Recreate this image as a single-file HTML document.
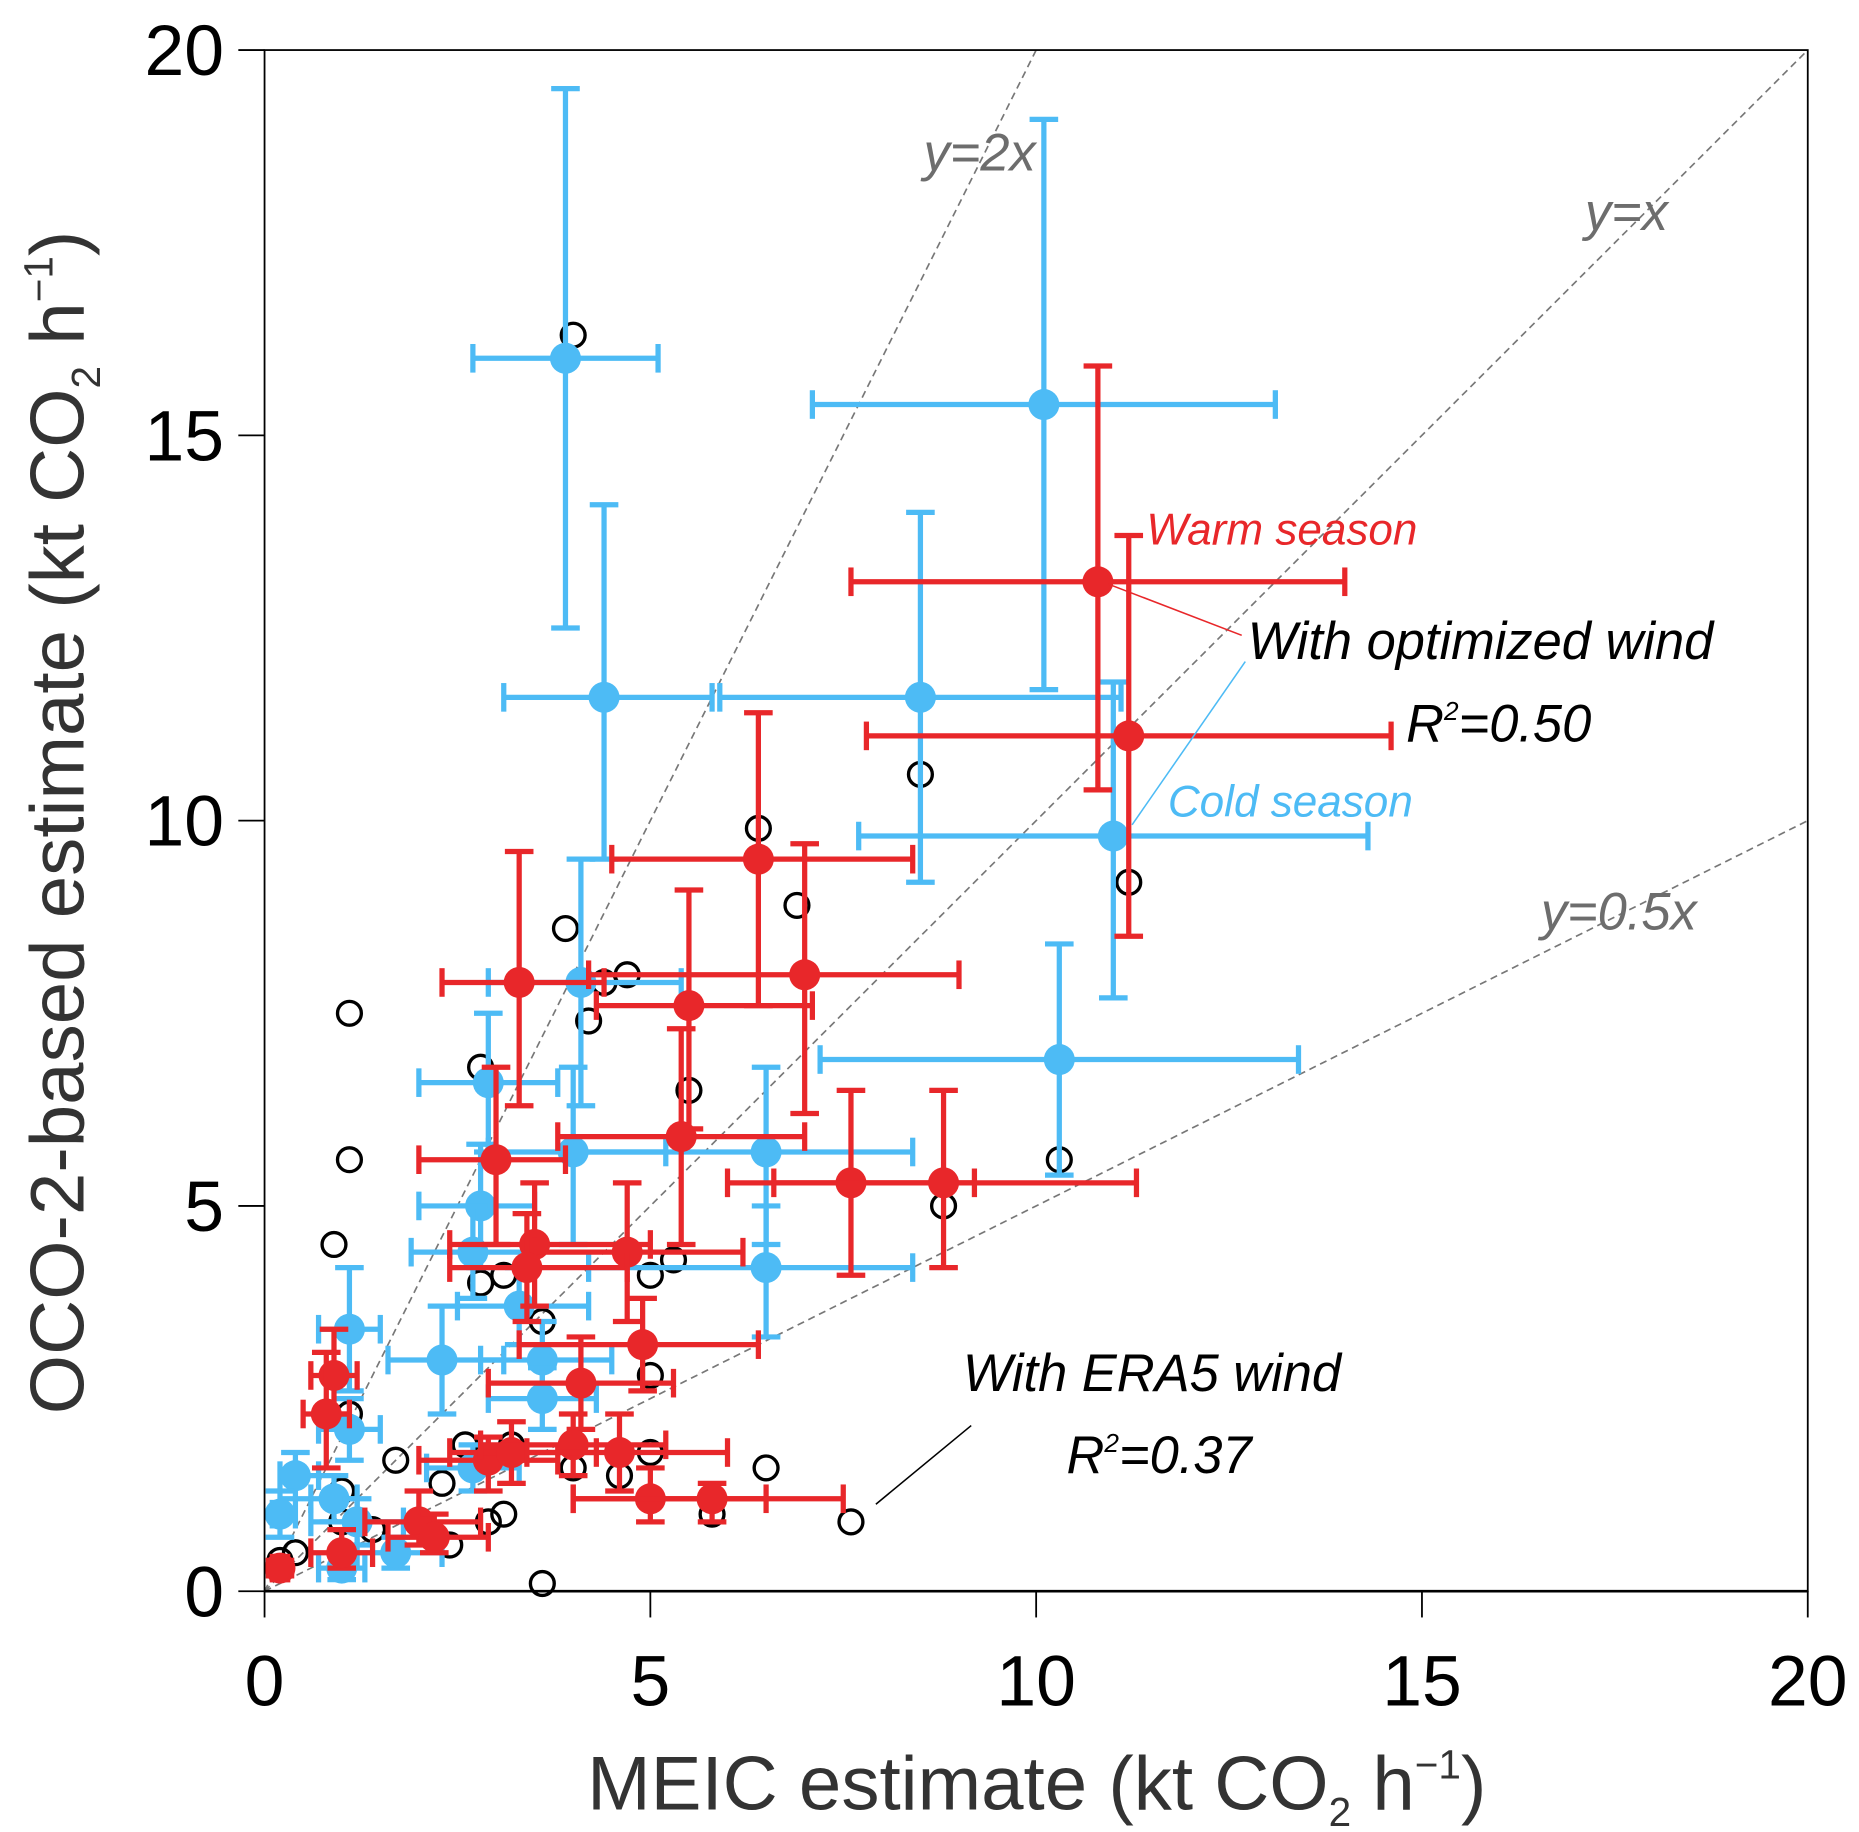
<!DOCTYPE html>
<html><head><meta charset="utf-8"><style>
html,body{margin:0;padding:0;background:#fff;}
svg{display:block;}
text{font-family:"Liberation Sans",sans-serif;}
</style></head><body>
<svg id="chart" width="1859" height="1832" viewBox="0 0 1560 1537" preserveAspectRatio="none" xmlns="http://www.w3.org/2000/svg">
<g id="refs"></g>
<g id="era"></g>
<g id="cold"></g>
<g id="warm"></g>
<g id="axes"></g>
<g>
<text x="775" y="143" font-size="44" font-style="italic" fill="#6d6d6d">y=2x</text>
<text x="1330" y="193" font-size="44" font-style="italic" fill="#6d6d6d">y=x</text>
<text x="1293" y="780" font-size="44" font-style="italic" fill="#6d6d6d">y=0.5x</text>
<text x="962" y="457" font-size="37" font-style="italic" fill="#E8272A">Warm season</text>
<text x="1047" y="553" font-size="44" font-style="italic" fill="#000">With optimized wind</text>
<text x="1180" y="622" font-size="44" font-style="italic" fill="#000">R<tspan font-size="22" dy="-18">2</tspan><tspan dy="18">=0.50</tspan></text>
<text x="980" y="685" font-size="37" font-style="italic" fill="#4DBBF5">Cold season</text>
<text x="808" y="1167" font-size="44" font-style="italic" fill="#000">With ERA5 wind</text>
<text x="895" y="1236" font-size="44" font-style="italic" fill="#000">R<tspan font-size="22" dy="-18">2</tspan><tspan dy="18">=0.37</tspan></text>
<line x1="930" y1="490" x2="1042" y2="533" stroke="#E8272A" stroke-width="1.3"/>
<line x1="950" y1="692" x2="1045" y2="555" stroke="#4DBBF5" stroke-width="1.3"/>
<line x1="735" y1="1262" x2="815" y2="1196" stroke="#000" stroke-width="1.3"/>
</g>
</svg>
<script>
// ERA5 wind estimates (open circles)
const eraX=[4.0,8.5,6.4,11.2,6.9,3.9,4.7,4.4,4.2,1.1,5.5,2.8,1.1,10.3,8.8,0.9,5.3,5.0,3.1,2.8,3.6,5.0,1.1,1.7,2.6,3.2,4.0,4.6,5.0,6.5,2.3,3.1,2.9,5.8,7.6,1.4,2.4,0.4,0.2,3.6,1.0,1.0,1.0];
const eraY=[16.3,10.6,9.9,9.2,8.9,8.6,8.0,7.9,7.4,7.5,6.5,6.8,5.6,5.6,5.0,4.5,4.3,4.1,4.1,4.0,3.5,2.8,2.3,1.7,1.9,1.9,1.6,1.5,1.8,1.6,1.4,1.0,0.9,1.0,0.9,0.8,0.6,0.5,0.4,0.1,0.9,1.3,0.5];
// Cold season
const coldX=[3.9,10.1,4.4,8.5,11.0,10.3,6.5,6.5,4.1,4.0,2.9,2.8,2.7,3.3,2.3,3.6,3.6,1.1,1.1,0.4,0.9,0.2,1.2,1.7,1.0,2.7];
const coldY=[16.0,15.4,11.6,11.6,9.8,6.9,5.7,4.2,7.9,5.7,6.6,5.0,4.4,3.7,3.0,3.0,2.5,3.4,2.1,1.5,1.2,1.0,0.9,0.5,0.3,1.6];
const coldXlo=[2.7,7.1,3.1,5.9,7.7,7.2,4.0,4.2,2.9,2.9,2.0,2.0,1.9,2.5,1.6,2.8,2.9,0.7,0.7,0.2,0.6,0.1,0.6,1.2,0.7,2.1];
const coldXhi=[5.1,13.1,5.8,11.1,14.3,13.4,8.4,8.4,5.4,5.2,3.8,3.5,3.5,4.2,3.1,4.5,4.3,1.5,1.5,0.7,1.2,0.4,1.8,2.3,1.3,3.3];
const coldYlo=[12.5,11.7,9.5,9.2,7.7,5.4,4.5,3.3,6.3,4.5,5.7,4.2,3.8,3.2,2.3,2.5,2.1,2.6,1.7,1.2,0.9,0.7,0.6,0.3,0.15,1.3];
const coldYhi=[19.5,19.1,14.1,14.0,11.8,8.4,6.8,5.0,9.5,6.8,7.5,5.8,5.0,4.2,3.7,3.5,2.9,4.2,2.5,1.8,1.5,1.3,1.2,0.7,0.5,1.9];
// Warm season
const warmX=[10.8,11.2,6.4,7.0,3.3,5.5,5.4,3.0,7.6,8.8,3.5,4.7,3.4,4.9,4.1,0.9,0.8,2.9,3.2,4.0,4.6,5.0,5.8,2.0,2.2,1.0,0.2];
const warmY=[13.1,11.1,9.5,8.0,7.9,7.6,5.9,5.6,5.3,5.3,4.5,4.4,4.2,3.2,2.7,2.8,2.3,1.7,1.8,1.9,1.8,1.2,1.2,0.9,0.7,0.5,0.3];
const warmXlo=[7.6,7.8,4.5,4.2,2.3,4.3,3.8,2.0,6.0,6.6,2.4,3.5,2.4,3.3,2.9,0.6,0.5,2.0,2.4,2.8,3.4,4.0,4.0,1.3,1.6,0.6,0.1];
const warmXhi=[14.0,14.6,8.4,9.0,4.4,7.1,7.0,3.9,9.2,11.3,5.0,6.2,4.7,6.4,5.3,1.2,1.1,3.8,4.3,5.2,6.0,6.5,7.5,2.8,2.9,1.4,0.3];
const warmYlo=[10.4,8.5,7.6,6.2,6.3,6.0,4.5,4.5,4.1,4.2,3.7,3.5,3.5,2.6,2.1,2.3,1.6,1.3,1.4,1.5,1.3,0.9,0.9,0.6,0.5,0.3,0.2];
const warmYhi=[15.9,13.7,11.4,9.7,9.6,9.1,7.3,6.8,6.5,6.5,5.3,5.3,4.9,3.8,3.3,3.4,3.1,2.0,2.2,2.3,2.3,1.6,1.4,1.3,1.0,0.8,0.4];
const ticks=[0,5,10,15,20];
const refSlopes=[2,1,0.5];

const NS="http://www.w3.org/2000/svg";
const X0=222,X1=1517,Y0=1335,Y1=42;
function sx(v){return X0+(X1-X0)*v/20;}
function sy(v){return Y0-(Y0-Y1)*v/20;}
function mk(tag,attrs,parent){const e=document.createElementNS(NS,tag);for(const k in attrs)e.setAttribute(k,attrs[k]);parent.appendChild(e);return e;}

const refs=document.getElementById('refs');
refSlopes.forEach(s=>{
  const xe=Math.min(20,20/s);
  const l=mk('line',{x1:sx(0),y1:sy(0),x2:sx(xe),y2:sy(xe*s),stroke:'#777','stroke-width':1.4,'stroke-dasharray':'6 4'},refs);
  
  
});

const era=document.getElementById('era');
eraX.forEach((x,i)=>{
  const c=mk('circle',{cx:sx(x),cy:sy(eraY[i]),r:10,fill:'none',stroke:'#000','stroke-width':2.8},era);
  
  
});

function series(gid,col,X,Y,Xlo,Xhi,Ylo,Yhi,name){
  const g=document.getElementById(gid);
  X.forEach((x,i)=>{
    const pg=mk('g',{},g);
    
    
    const cx=sx(x),cy=sy(Y[i]);
    const a={stroke:col,'stroke-width':4.4};
    mk('line',Object.assign({x1:sx(Xlo[i]),y1:cy,x2:sx(Xhi[i]),y2:cy},a),pg);
    mk('line',Object.assign({x1:cx,y1:sy(Ylo[i]),x2:cx,y2:sy(Yhi[i])},a),pg);
    mk('line',Object.assign({x1:sx(Xlo[i]),y1:cy-12,x2:sx(Xlo[i]),y2:cy+12},a),pg);
    mk('line',Object.assign({x1:sx(Xhi[i]),y1:cy-12,x2:sx(Xhi[i]),y2:cy+12},a),pg);
    mk('line',Object.assign({x1:cx-12,y1:sy(Ylo[i]),x2:cx+12,y2:sy(Ylo[i])},a),pg);
    mk('line',Object.assign({x1:cx-12,y1:sy(Yhi[i]),x2:cx+12,y2:sy(Yhi[i])},a),pg);
    mk('circle',{cx:cx,cy:cy,r:13,fill:col},pg);
  });
}
series('cold','#4DBBF5',coldX,coldY,coldXlo,coldXhi,coldYlo,coldYhi,'cold-season-point');
series('warm','#E8272A',warmX,warmY,warmXlo,warmXhi,warmYlo,warmYhi,'warm-season-point');

const ax=document.getElementById('axes');
mk('rect',{x:X0,y:Y1,width:X1-X0,height:Y0-Y1,fill:'none',stroke:'#000','stroke-width':1.5},ax);
mk('line',{x1:X0,y1:Y0,x2:X1,y2:Y0,stroke:'#000','stroke-width':2.2},ax);
ticks.forEach(t=>{
  mk('line',{x1:sx(t),y1:Y0,x2:sx(t),y2:Y0+22,stroke:'#000','stroke-width':1.5},ax);
  mk('line',{x1:X0-22,y1:sy(t),x2:X0,y2:sy(t),stroke:'#000','stroke-width':1.5},ax);
  const tx=mk('text',{x:sx(t),y:Y0+96,'font-size':60,'text-anchor':'middle',fill:'#000'},ax);
  tx.textContent=t;
  
  
  const ty=mk('text',{x:X0-34,y:sy(t)+21,'font-size':60,'text-anchor':'end',fill:'#000'},ax);
  ty.textContent=t;
  
  
});
</script>
<svg style="position:absolute;left:0;top:0" width="1859" height="1832" viewBox="0 0 1560 1537" preserveAspectRatio="none" xmlns="http://www.w3.org/2000/svg">
<text x="870" y="1518" font-size="64" text-anchor="middle" fill="#333" font-family="Liberation Sans, sans-serif">MEIC estimate (kt CO<tspan font-size="34" dy="14">2</tspan><tspan dy="-14"> h</tspan><tspan font-size="34" dy="-26">−1</tspan><tspan dy="26">)</tspan></text>
<text transform="translate(70,690) rotate(-90)" x="0" y="0" font-size="64" text-anchor="middle" fill="#333" font-family="Liberation Sans, sans-serif">OCO-2-based estimate (kt CO<tspan font-size="34" dy="14">2</tspan><tspan dy="-14"> h</tspan><tspan font-size="34" dy="-26">−1</tspan><tspan dy="26">)</tspan></text>
</svg>
</body></html>
